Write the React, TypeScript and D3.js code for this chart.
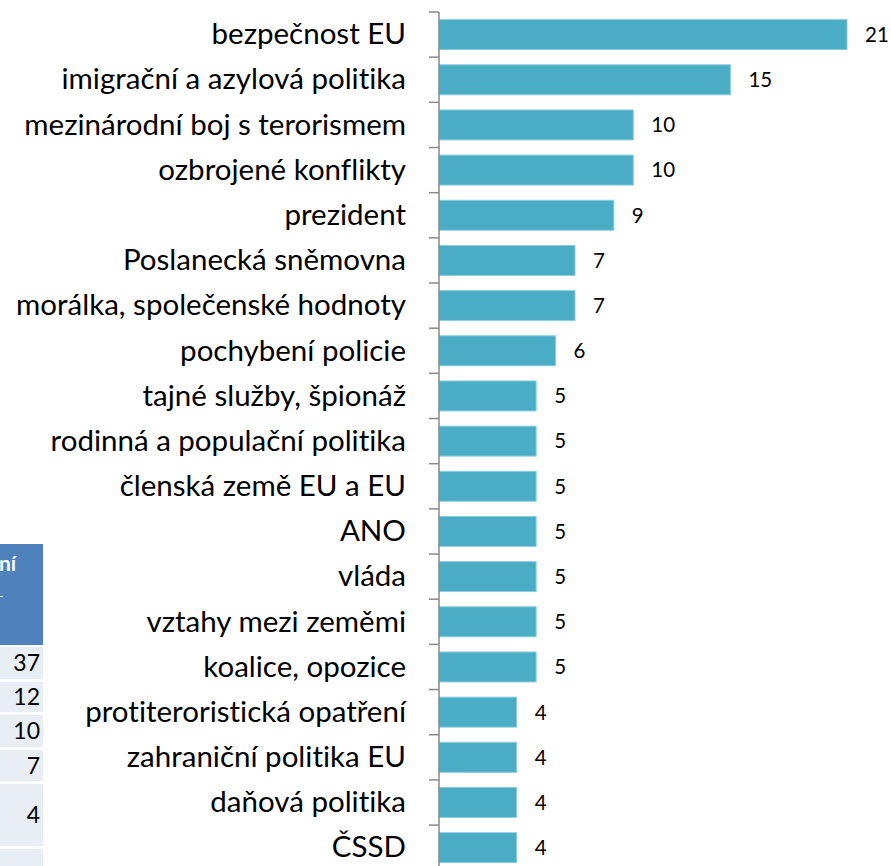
import React from "react";
import * as d3 from "d3";

const categories = [
  "bezpečnost EU",
  "imigrační a azylová politika",
  "mezinárodní boj s terorismem",
  "ozbrojené konflikty",
  "prezident",
  "Poslanecká sněmovna",
  "morálka, společenské hodnoty",
  "pochybení policie",
  "tajné služby, špionáž",
  "rodinná a populační politika",
  "členská země EU a EU",
  "ANO",
  "vláda",
  "vztahy mezi zeměmi",
  "koalice, opozice",
  "protiteroristická opatření",
  "zahraniční politika EU",
  "daňová politika",
  "ČSSD",
];
const values = [21, 15, 10, 10, 9, 7, 7, 6, 5, 5, 5, 5, 5, 5, 5, 4, 4, 4, 4];

const tableHeader = ["ní", "-"];
const tableValues = ["37", "12", "10", "7", "4", "4"];

const W = 891;
const H = 866;

export default function App() {
  const axisX = 439;
  const x = d3.scaleLinear().domain([0, 21]).range([axisX, 847]);
  const n = categories.length;
  const step = 45.17;
  const y = d3
    .scaleBand<string>()
    .domain(categories)
    .range([12, 12 + n * step])
    .paddingInner(0.336)
    .paddingOuter(0.168);

  const tickYs = d3.range(n + 1).map((i) => 12 + i * step);

  const rowTops = [647, 682, 715, 750, 784, 849];
  const rowBottoms = [679, 712, 747, 781, 846, 900];

  return (
    <svg
      width={W}
      height={H}
      style={{ position: "absolute", left: 0, top: 0, background: "#fff" }}
      fontFamily="Lato, 'Open Sans', sans-serif"
    >
      {/* partial table on the left */}
      <g>
        <rect x={0} y={544} width={43} height={101} fill="#4f81bd" />
        <text x={-1} y={571} fontSize={21} fontWeight="bold" fill="#fff">
          {tableHeader[0]}
        </text>
        <text x={-1} y={600} fontSize={12} fill="#fff">
          {tableHeader[1]}
        </text>
        {tableValues.map((v, i) => (
          <g key={i}>
            <rect
              x={0}
              y={rowTops[i]}
              width={43}
              height={rowBottoms[i] - rowTops[i]}
              fill="#e9edf4"
            />
            <text
              x={40}
              y={(rowTops[i] + rowBottoms[i]) / 2}
              dy="0.36em"
              fontSize={23}
              textAnchor="end"
              fill="#000"
            >
              {v}
            </text>
          </g>
        ))}
      </g>

      {/* bars */}
      {categories.map((c, i) => (
        <g key={c}>
          <rect
            x={x(0)}
            y={y(c)!}
            width={x(values[i]) - x(0)}
            height={y.bandwidth()}
            fill="#4bacc6"
            stroke="#8ccfe0"
            strokeWidth={1}
          />
          <text
            x={406}
            y={y(c)! + y.bandwidth() / 2}
            dy="0.33em"
            textAnchor="end"
            fontSize={29.5}
            fill="#000"
            style={{ fontVariantLigatures: "none" }}
          >
            {c}
          </text>
          <text
            x={x(values[i]) + 18}
            y={y(c)! + y.bandwidth() / 2}
            dy="0.36em"
            fontSize={20.5}
            fill="#000"
          >
            {values[i]}
          </text>
        </g>
      ))}

      {/* axis */}
      <line x1={axisX} x2={axisX} y1={12} y2={H} stroke="#898989" strokeWidth={1.5} />
      {tickYs.map((t, i) => (
        <line key={i} x1={429} x2={axisX} y1={t} y2={t} stroke="#898989" strokeWidth={1.5} />
      ))}
    </svg>
  );
}
